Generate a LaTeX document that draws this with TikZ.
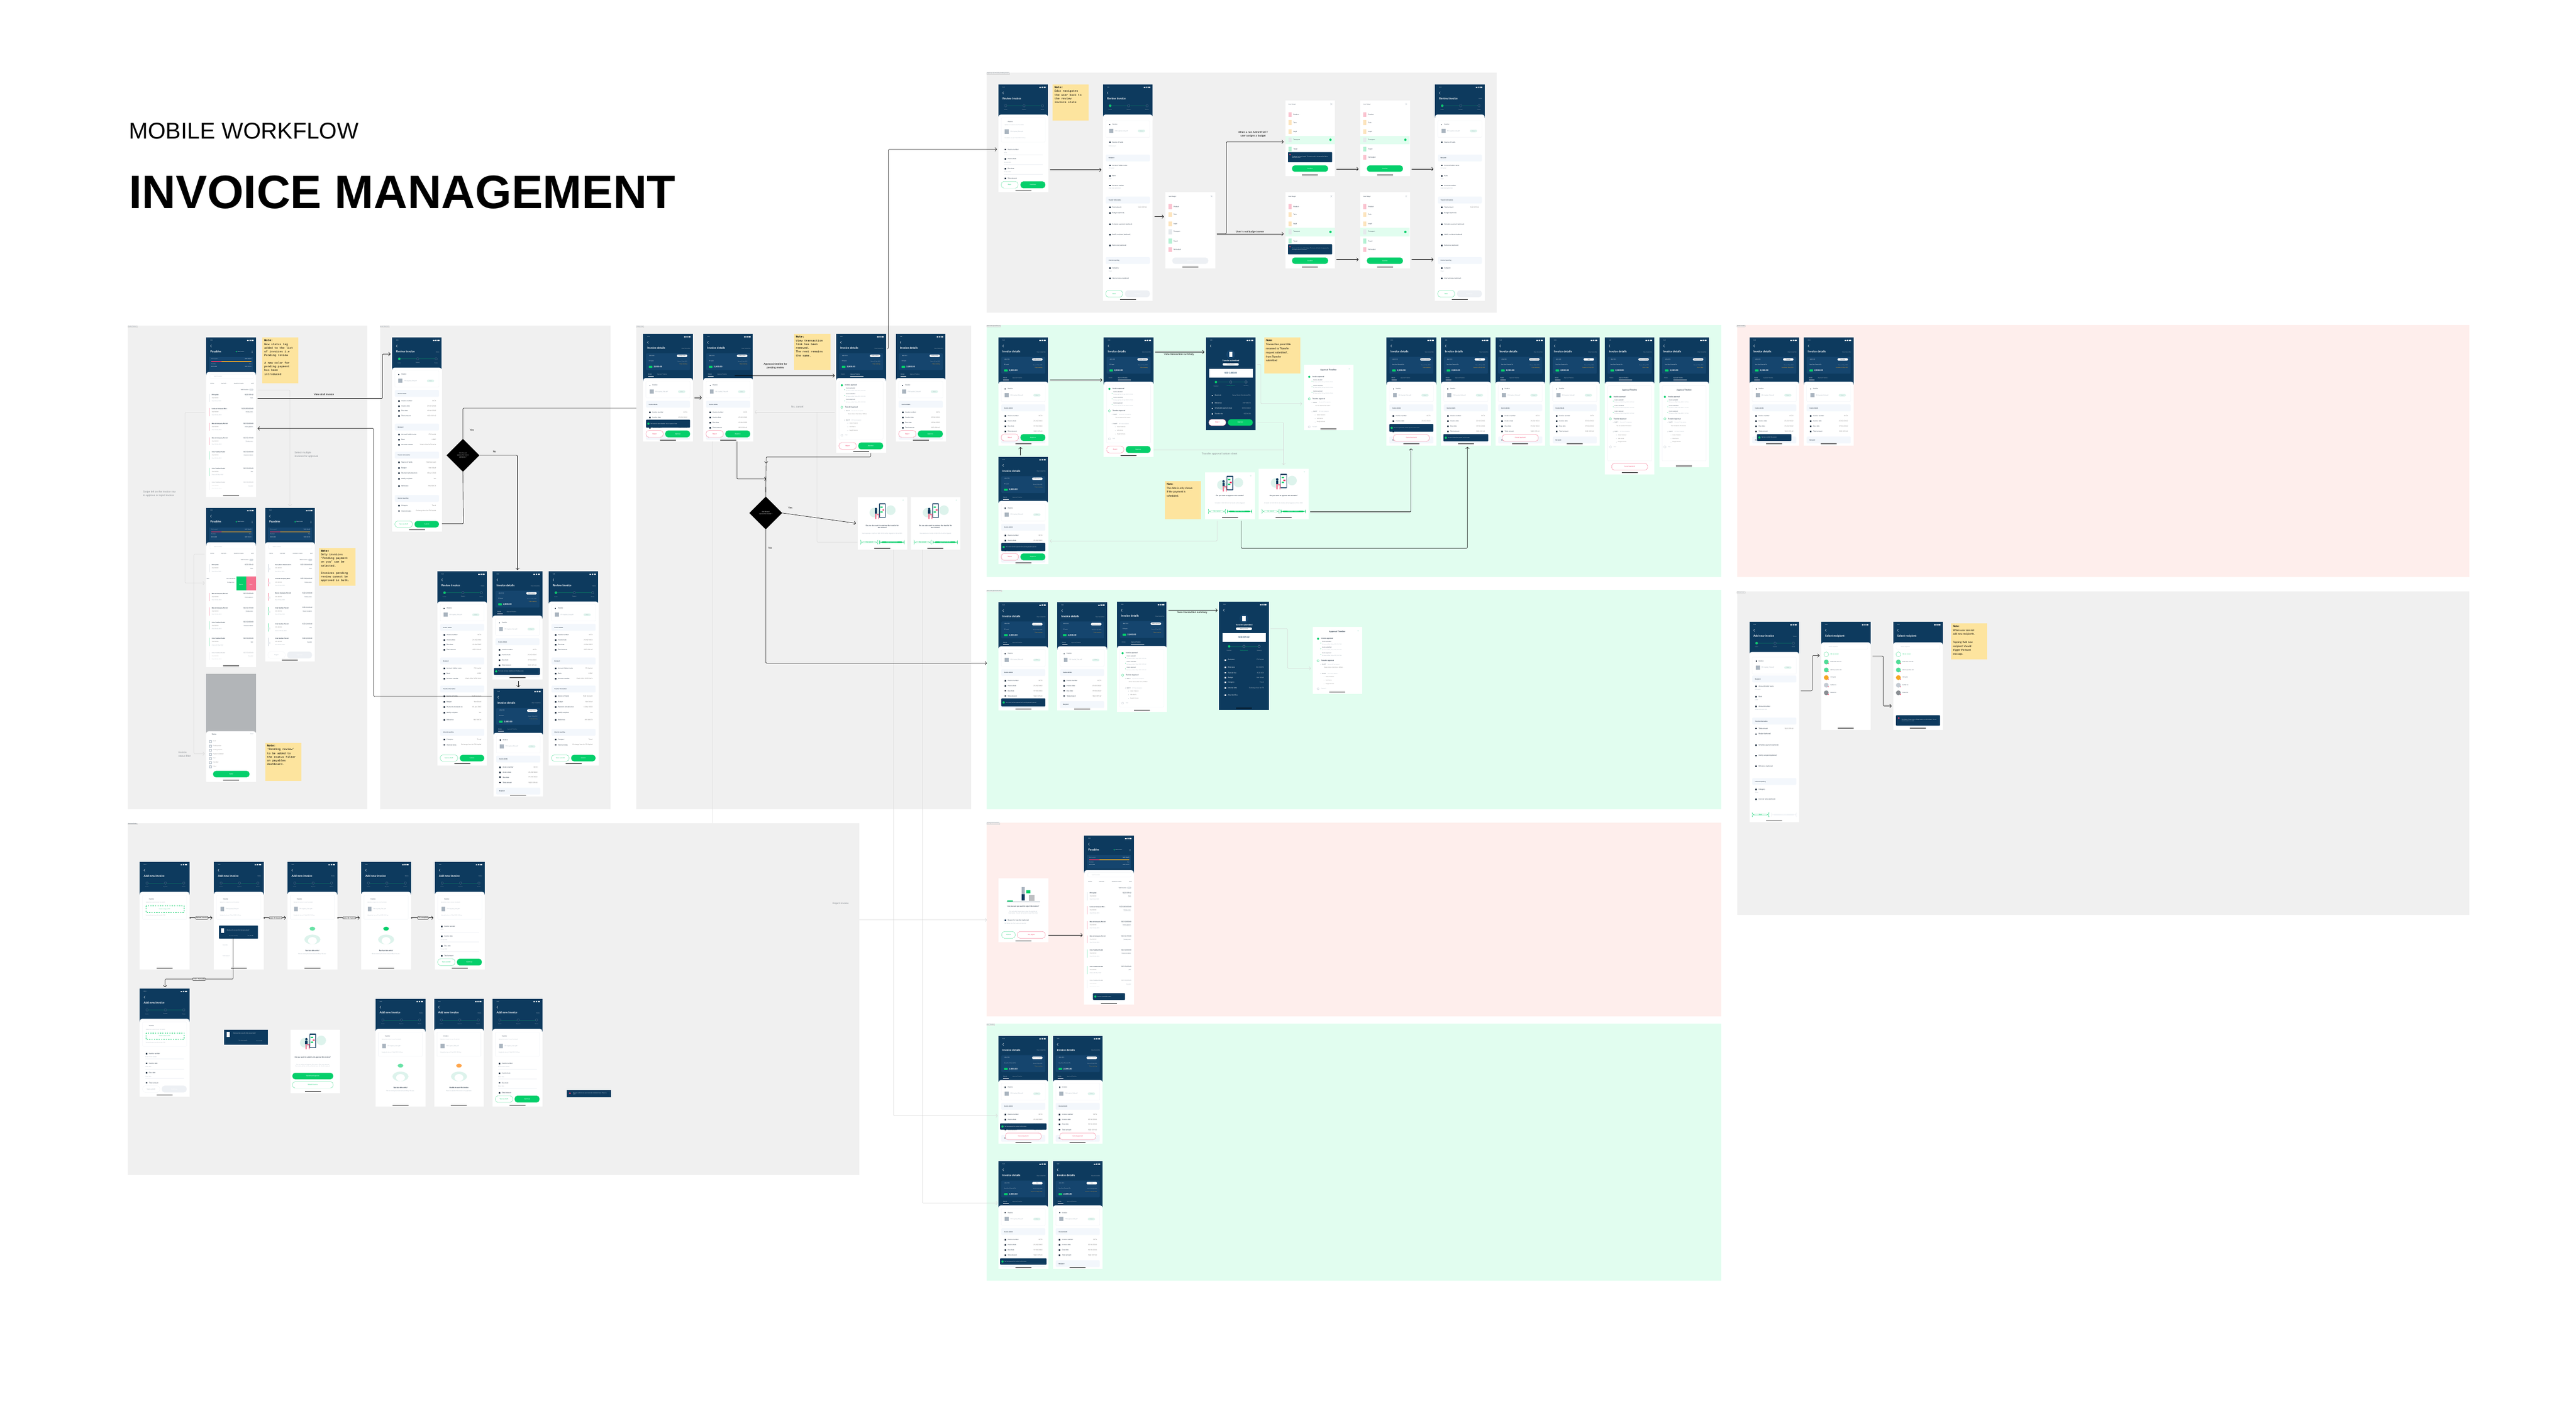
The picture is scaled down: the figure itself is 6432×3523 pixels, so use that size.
\documentclass[tikz,border=0pt]{standalone}
\usepackage{fontspec}
\setmainfont{Lato}
\newfontfamily\flowfont{Liberation Sans}
\newfontfamily\notemono{Liberation Mono}
\usetikzlibrary{arrows.meta,shapes.geometric}

\definecolor{navy}{HTML}{0D3A5E}
\definecolor{navylight}{HTML}{15456E}
\definecolor{mint}{HTML}{05CF6B}
\definecolor{mintpale}{HTML}{DDF3EC}
\definecolor{panelgray}{HTML}{F0F0F0}
\definecolor{panelgreen}{HTML}{E1FDEF}
\definecolor{panelred}{HTML}{FEEEEC}
\definecolor{noteyellow}{HTML}{FDE49E}
\definecolor{rose}{HTML}{F0345F}
\definecolor{amber}{HTML}{F5A623}
\definecolor{palebar}{HTML}{F3F7FC}
\definecolor{ink}{HTML}{2B3A4A}
\definecolor{mute}{HTML}{A9B4BF}
\definecolor{cardline}{HTML}{EDF0F4}
\definecolor{faintline}{HTML}{D6D6D6}
\definecolor{flowgrey}{HTML}{8A8F94}
\definecolor{scrim}{HTML}{B2B5B8}

\tikzset{
  phonebox/.style={fill=white,inner sep=0pt,minimum width=124pt,anchor=north west},
  panelbox/.style={inner sep=0pt,anchor=north west},
  tagbox/.style={anchor=north west,fill=white,fill opacity=.5,text opacity=1,draw=faintline,line width=.2pt,inner sep=1pt,font=\fontsize{2.4}{3}\selectfont,text=ink},
  smalltxt/.style={inner sep=0pt,anchor=west,text=ink,font=\fontsize{4}{4.8}\selectfont},
  wtxt/.style={text=white},
  mtxt/.style={text=mute},
  metatxt/.style={text=mute,font=\fontsize{3}{3.6}\selectfont},
  tinytxt/.style={font=\fontsize{2.6}{3.2}\selectfont},
  boldtxt/.style={font=\fontsize{4}{4.8}\selectfont\bfseries},
  okbtn/.style={fill=mint,text=white},
  outgreen/.style={draw=mint,fill=white,text=mint,line width=.3pt},
  outrose/.style={draw=rose,fill=white,text=rose,line width=.3pt},
  offbtn/.style={fill=cardline,text=white},
  flow/.style={draw=black,line width=.8pt,rounded corners=2pt,shorten >=4pt,shorten <=4pt,-{Straight Barb[length=4pt,width=9pt]}},
  flowplain/.style={draw=black,line width=.8pt,rounded corners=2pt},
  faint/.style={draw=faintline,line width=.7pt,rounded corners=2pt,shorten >=4pt,shorten <=4pt,-{Straight Barb[length=4pt,width=9pt]}},
  faintplain/.style={draw=faintline,line width=.7pt,rounded corners=2pt},
  flowlbl/.style={inner sep=0pt,align=center,font=\flowfont\fontsize{6.4}{9}\selectfont},
  greylbl/.style={flowlbl,text=flowgrey},
  flowtag/.style={fill=white,draw=black,line width=.6pt,inner sep=1.2pt,font=\flowfont\fontsize{4.6}{5}\selectfont},
  notebox/.style={fill=noteyellow,inner sep=5pt,anchor=north west,align=left},
  decision/.style={diamond,fill=black,text=white,aspect=1,inner sep=0pt,minimum width=82pt,minimum height=82pt,align=center,font=\fontsize{3.4}{5}\selectfont},
}

\newcount\lblno
\newcommand{\lbl}[4][]{\global\advance\lblno by 1\relax\node[smalltxt,#1] (n\the\lblno) at (#2,#3) {#4};}
\newcommand{\panel}[7]{\pgfmathsetmacro\panw{#4-#2}\pgfmathsetmacro\panh{#5-#3}%
  \node[panelbox,fill=#6,minimum width=\panw pt,minimum height=\panh pt] (#1) at (#2,#3) {};
  \node[tagbox] (#1tag) at (#1.north west) {#7};}
\newcommand{\notemonobox}[6]{\node[notebox,font=\notemono\fontsize{7}{9.3}\selectfont] (#1) at (#2,#3) {\parbox[t][#5pt][t]{#4pt}{#6}};}
\newcommand{\notesansbox}[6]{\node[notebox,font=\fontsize{6.4}{10}\selectfont] (#1) at (#2,#3) {\parbox[t][#5pt][t]{#4pt}{#6}};}

\newcommand{\phonebase}[4]{\node[phonebox,minimum height=#4pt] (#1) at (#2,#3) {};\gdef\px{#2}\gdef\py{#3}\gdef\ph{#4}}
\newcommand{\inphone}[1]{\begin{scope}[shift={(\px,\py)}]#1\end{scope}}
\newcommand{\homebar}{\inphone{\fill[black] (42,\ph-4) rectangle (82,\ph-3);}}
\newcommand{\btnbox}[6][]{\global\advance\lblno by 1\relax\pgfmathsetmacro\btnw{#3-#2}\pgfmathsetmacro\btnh{#5-#4}%
  \node[#1,inner sep=0pt,rounded corners=7pt,minimum width=\btnw pt,minimum height=\btnh pt,font=\fontsize{3.8}{4.4}\selectfont] (n\the\lblno) at ({(#2+#3)/2},{(#4+#5)/2}) {#6};}
\newcommand{\toastbar}[5]{\inphone{\fill[navy,rounded corners=1.5pt] (#1,#3) rectangle (#2,#4);
  \fill[mint] (#1+6,{(#3+#4)/2}) circle (2.8);
  \global\advance\lblno by 1\relax\node[smalltxt,wtxt,tinytxt,text width=#2-#1-16 pt,align=left] (n\the\lblno) at (#1+11,{(#3+#4)/2}) {#5};}}

% phone header
\newcommand{\headbar}[3]{\inphone{
  \fill[navy] (0,0) rectangle (124,#3+8);
  \fill[white,rounded corners=6pt] (0,#3) rectangle (124,#3+20);
  \fill[white] (0,#3+10) rectangle (124,\ph);
  \lbl[wtxt,metatxt,text=white]{10}{7}{9:41}
  \fill[white] (102,6) rectangle (106,8.5) (108,5.5) rectangle (111,8.5) (113,5.5) rectangle (118,8.5);
  \draw[white,line width=.5pt] (13,18) -- (10.5,21) -- (13,24);
  \lbl[wtxt,font=\fontsize{7}{8}\selectfont\bfseries]{10}{35}{#1}
  \lbl[metatxt,anchor=east]{118}{36}{#2}}}
\newcommand{\stepper}[1]{\inphone{
  \draw[mint!35!navy,line width=.3pt] (18,53) -- (110,53);
  \foreach \xx in {18,64,110} {\filldraw[fill=navy,draw=mute!60!navy,line width=.3pt] (\xx,53) circle (3);}
  \ifnum#1=1 \fill[mint] (18,53) circle (3); \fi
  \lbl[anchor=center,metatxt,tinytxt]{18}{63}{Invoice}
  \lbl[anchor=center,metatxt,tinytxt]{64}{63}{Payment}
  \lbl[anchor=center,metatxt,tinytxt]{110}{63}{Review}}}
\newcommand{\sumcard}[4]{\inphone{
  \fill[navylight,rounded corners=2pt] (7,48) rectangle (117,90);
  \lbl[wtxt,tinytxt]{15}{54}{\#INV-1015}
  \fill[white,rounded corners=2pt] (84,51.5) rectangle (110,57.5);
  \lbl[anchor=center,tinytxt]{97}{54.5}{#2}
  \lbl[wtxt,tinytxt]{14}{68}{#1}
  \lbl[anchor=east,tinytxt,text=mute]{110}{69}{#4}
  \lbl[anchor=east,tinytxt,text=amber]{110}{76}{#3}
  \fill[mint,rounded corners=1pt] (14,79.5) rectangle (23,84.5);
  \lbl[wtxt,font=\fontsize{5.4}{6}\selectfont\bfseries]{26}{82}{2,000.00}}}
\newcommand{\tabbar}[1]{\inphone{
  \ifnum#1=0
    \lbl[wtxt,metatxt,text=white]{12}{101}{Details}\lbl[metatxt]{35}{101}{Approval Timeline}
    \fill[white] (12,105.5) rectangle (26,106);
  \else
    \lbl[metatxt]{12}{101}{Details}\lbl[metatxt,text=white]{35}{101}{Approval Timeline}
    \fill[white] (35,105.5) rectangle (68,106);
  \fi}}
\newcommand{\filecard}[1]{\inphone{
  \draw[cardline,line width=.4pt,rounded corners=2pt] (7,#1) rectangle (117,#1+42);
  \fill[ink] (16,#1+8.5) rectangle (18,#1+11.5);
  \lbl{23}{#1+10}{Invoice}
  \fill[mute] (16,#1+21) rectangle (26,#1+31);
  \lbl[metatxt,font=\fontsize{3.8}{4.4}\selectfont]{30}{#1+26}{FR Capital\_Feb.pdf}
  \fill[mintpale,rounded corners=3pt] (87,#1+23) rectangle (105,#1+29);
  \lbl[anchor=center,metatxt]{96}{#1+26}{View}}}
\newcommand{\secbar}[2]{\inphone{
  \fill[palebar,rounded corners=2pt] (7,#1) rectangle (117,#1+17);
  \lbl[boldtxt,font=\fontsize{3.4}{4}\selectfont\bfseries]{14}{#1+9}{#2}}}
\newcommand{\inforow}[3]{\inphone{
  \fill[ink] (15,#1-1.8) rectangle (19,#1+1.8);
  \lbl{23}{#1}{#2}
  \lbl[anchor=east,text=gray]{110}{#1}{#3}}}
\newcommand{\invoicerows}[1]{
  \inforow{#1}{Invoice number}{0174}
  \inforow{#1+13}{Invoice date}{25/02/2022}
  \inforow{#1+25}{Due date}{19/04/2022}
  \inforow{#1+38}{Total amount}{SGD 339.42}}
\newcommand{\stdbody}{\filecard{118}\secbar{167}{Invoice details}\invoicerows{196}\secbar{247}{Recipient}}
\newcommand{\detailphone}[8]{\phonebase{#1}{#2}{#3}{#4}
  \headbar{Invoice details}{View transaction}{110}
  \sumcard{#5}{#6}{#7}{Due on 19 Apr 2022}\tabbar{#8}}
\newcommand{\approvebtns}{\inphone{\btnbox[outrose]{7}{50}{241}{258}{Reject}\btnbox[okbtn]{55}{117}{241}{258}{Approve}}}
\newcommand{\cancelbtn}[1]{\inphone{\btnbox[outrose]{17}{107}{#1}{#1+17}{Cancel payment}}}

% long review form
\newcommand{\reviewbody}{
  \filecard{82}\secbar{131}{Invoice details}\invoicerows{158}
  \secbar{215}{Recipient}
  \inforow{242}{Account holder name}{FR Capital}\inforow{255}{Bank}{HSBC}\inforow{268}{Account number}{2348 1234 5678 9101}
  \secbar{285}{Transfer information}
  \inforow{312}{Source of funds}{SGD Account}\inforow{326}{Budget}{Not linked}\inforow{339}{Payment scheduled on}{18 Apr 2022}
  \inforow{353}{Notify recipient}{Yes}\inforow{371}{Reference}{INV 00174}
  \secbar{393}{Internal reporting}
  \inforow{420}{Category}{Travel}\inforow{433}{Internal notes}{Exchange fees for FR Capital}}
\newcommand{\reviewphone}[3]{\phonebase{#1}{#2}{#3}{484}
  \headbar{Review invoice}{Delete}{75}\stepper{1}\reviewbody
  \inphone{\btnbox[outgreen]{7}{51}{458}{474}{Save as draft}\btnbox[okbtn]{56}{117}{458}{474}{Submit}}\homebar}
\newcommand{\editsections}[1]{
  \secbar{175+#1}{Recipient}
  \inforow{202+#1}{Account holder name}{}\inphone{\lbl[metatxt]{14}{210+#1}{FR Capital}}
  \inforow{228+#1}{Bank}{}\inphone{\lbl[metatxt]{14}{236+#1}{HSBC}}
  \inforow{252+#1}{Account number}{}\inphone{\lbl[metatxt]{14}{260+#1}{2348 1234 5678 9101}}
  \secbar{280+#1}{Transfer information}
  \inforow{307+#1}{Total amount}{SGD 339.42}\inforow{321+#1}{Budget (optional)}{}
  \inforow{349+#1}{Schedule payment (optional)}{}\inforow{375+#1}{Notify recipient (optional)}{}
  \inforow{402+#1}{Reference (optional)}{}
  \secbar{431+#1}{Internal reporting}
  \inforow{459+#1}{Category}{}\inphone{\lbl[metatxt]{14}{467+#1}{Travel}}
  \inforow{484+#1}{Internal notes (optional)}{}
  \inphone{\btnbox[outgreen]{7}{49}{514+#1}{531+#1}{Back}\btnbox[offbtn]{55}{117}{514+#1}{531+#1}{Continue}}}

% add-invoice parts
\newcommand{\uploadcard}{\inphone{
  \draw[cardline,line width=.4pt,rounded corners=2pt] (7,83) rectangle (117,144);
  \lbl{23}{93}{Invoice}\lbl[metatxt]{15}{102}{Upload an invoice to scan the details}
  \draw[mint,dashed,line width=.3pt] (15,110) rectangle (111,126);
  \lbl[anchor=center,tinytxt,text=mint]{62}{118}{Upload an image or PDF}
  \lbl[metatxt,tinytxt]{15}{134}{Accepted formats: jpg, pdf, png, files 5 MB}}}
\newcommand{\uploadedcard}{\inphone{
  \draw[cardline,line width=.4pt,rounded corners=2pt] (7,83) rectangle (117,144);
  \lbl{23}{93}{Invoice}\lbl[metatxt]{15}{102}{Upload an invoice to scan the details}
  \fill[mute] (16,112) rectangle (26,124);
  \lbl[metatxt,font=\fontsize{3.8}{4.4}\selectfont]{30}{118}{FR Capital\_Feb.pdf}
  \lbl[metatxt,tinytxt]{15}{134}{Uploaded by Jane on 17 April 2022, 12:29 pm}}}
\newcommand{\formrows}[4]{
  \inforow{162}{Invoice number}{}\inphone{\lbl[metatxt]{14}{170}{#1}\draw[cardline] (14,175) -- (110,175);}
  \inforow{186}{Invoice date}{}\inphone{\lbl[metatxt]{14}{195}{#2}\draw[cardline] (14,200) -- (110,200);}
  \inforow{210}{Due date}{}\inphone{\lbl[metatxt]{14}{219}{#3}\draw[cardline] (14,224) -- (110,224);}
  \inforow{235}{Total amount}{#4}}
\newcommand{\scanblob}[3]{\inphone{
  \fill[mintpale] (62,194) ellipse (20 and 12);
  \fill[white] (62,197) ellipse (11 and 9);
  \fill[#1] (62,167) ellipse (7 and 5);
  \lbl[anchor=center,boldtxt]{62}{222}{#2}
  \lbl[anchor=center,metatxt]{62}{230}{#3}}}
\newcommand{\addphone}[4]{\phonebase{#1}{#2}{#3}{269}\headbar{Add new invoice}{#4}{75}\stepper{0}}

% illustrations and sheets
\newcommand{\phonefig}[2]{\begin{scope}[shift={(#1,#2)}]
  \fill[mintpale] (-20,3) circle (12) (21,-3) circle (12);
  \fill[navy,rounded corners=1pt] (-8,-20) rectangle (8,16);
  \fill[white] (-6.5,-17) rectangle (6.5,14);
  \fill[mint] (-5,-12) rectangle (1,-9) (-5,0) rectangle (1,3);
  \fill[rose] (0,-5) rectangle (5,-2);
  \fill[navy] (-16,-6) circle (3);
  \fill[navy] (-19,-3) rectangle (-13,6);
  \fill[rose!70] (-18,6) rectangle (-15,19) (-14,6) rectangle (-8,9) (-10,9) rectangle (-8,19);
\end{scope}}
\newcommand{\askphone}[8]{\phonebase{#1}{#2}{#3}{#4}\inphone{
  \phonefig{62}{#4/2-30}
  \fill[mintpale] (114,8) circle (2);
  \global\advance\lblno by 1\relax\node[smalltxt,boldtxt,anchor=center,align=center,text width=108pt] (n\the\lblno) at (62,#4-58) {#5};
  \global\advance\lblno by 1\relax\node[smalltxt,metatxt,anchor=center,align=center,text width=108pt] (n\the\lblno) at (62,#4-40) {#6};
  \btnbox[outgreen]{8}{51}{#4-27}{#4-11}{#7}\btnbox[okbtn]{55}{117}{#4-27}{#4-11}{#8}}\homebar}
\newcommand{\budgetphone}[6]{\phonebase{#1}{#2}{#3}{190}\inphone{
  \lbl[metatxt,text=ink]{8}{11}{Select Budget}
  \draw[mute,line width=.3pt] (113,8) -- (117,12) (117,8) -- (113,12);
  \ifnum#4=1 \fill[panelgreen] (0,89) rectangle (124,110); \fill[mint] (113,99) circle (3); \fi
  \foreach \yy/\nm/\cc in {36/Product/rose,56/Tech/amber,79/Legal/amber,99/Transport/mute,122/Travel/mint,143/No budget/rose} {
    \fill[\cc!30] (8,\yy-6) rectangle (16,\yy+6);
    \lbl{20}{\yy}{\nm}}
  #5
  \btnbox[#6]{17}{107}{163}{179}{Confirm}}\homebar}
\newcommand{\budgettoast}[1]{\fill[navy,rounded corners=1pt] (7,130) rectangle (117,155);
  \fill[rose] (12,136) circle (2);
  \global\advance\lblno by 1\relax\node[smalltxt,wtxt,tinytxt,text width=92pt,align=left] (n\the\lblno) at (17,142) {#1};}
\newcommand{\recipientphone}[4]{\phonebase{#1}{#2}{#3}{269}\headbar{Select recipient}{}{51}\inphone{
  \draw[cardline,rounded corners=2pt,line width=.4pt] (7,56) rectangle (117,68);
  \lbl[metatxt]{19}{62}{Search recipients}
  \draw[mint,line width=.3pt] (13,81) circle (6);
  \lbl[tinytxt,text=mint]{23}{81}{Add new recipient}
  \foreach \yy/\nm/\cc in {100/{Acme Corp. Pte. Ltd.}/mint!70,120/ABC Corporation Ltd./mint!70,139/FR Capital/amber,158/Gorillaz Inc./mute!70,177/Xiaomi Ltd./flowgrey} {
    \fill[\cc] (13,\yy) circle (6);
    \fill[rose] (18,\yy+4) circle (1.3);
    \lbl[metatxt,text=ink]{23}{\yy}{\nm}}
  #4}\homebar}
\newcommand{\transferphone}[5]{\phonebase{#1}{#2}{#3}{#4}\inphone{
  \fill[navy] (0,0) rectangle (124,\ph);
  \lbl[wtxt,metatxt,text=white]{10}{7}{9:41}
  \fill[white] (102,6) rectangle (106,8.5) (108,5.5) rectangle (111,8.5) (113,5.5) rectangle (118,8.5);
  \draw[white,line width=.5pt] (13,18) -- (10.5,21) -- (13,24);
  \fill[navylight] (62,42) circle (11);
  \fill[white] (58,36) rectangle (66,48);
  \lbl[anchor=center,wtxt,font=\fontsize{5}{6}\selectfont\bfseries]{62}{58}{Transfer submitted}
  \fill[white,rounded corners=2pt] (42,64) rectangle (82,70);
  \lbl[anchor=center,tinytxt]{62}{67}{Pending payment}
  \fill[white] (8,78) rectangle (117,100);
  \lbl[anchor=center,boldtxt,text=navy,font=\fontsize{5}{6}\selectfont\bfseries]{62}{89}{#5}
  \draw[mint!35!navy,line width=.3pt] (25,111) -- (100,111);
  \fill[mint] (25,111) circle (3);
  \foreach \xx in {62,100} {\filldraw[fill=navy,draw=mute,line width=.3pt] (\xx,111) circle (3);}
  \lbl[anchor=center,metatxt,tinytxt]{25}{121}{Submitted}
  \lbl[anchor=center,tinytxt,text=mint]{62}{121}{Pending approval}
  \lbl[anchor=center,metatxt,tinytxt]{100}{121}{Upcoming}}}
\newcommand{\navyrow}[3]{\inphone{\fill[white] (14,#1-1.8) rectangle (17,#1+1.8);
  \lbl[wtxt]{22}{#1}{#2}\lbl[anchor=east,text=mute]{112}{#1}{#3}}}

% approval timeline list
\newcommand{\timelinelist}[3]{\inphone{\begin{scope}[shift={(0,#1)}]
  \fill[mint] (14,128) circle (2.6);
  \lbl[boldtxt]{22}{128}{Invoice approval}
  \foreach \yy/\nm in {136/Invoice uploaded,150/Invoice submitted,164/Invoice approved} {
    \fill[mint] (21,\yy+3) circle (.7);
    \lbl[metatxt,text=ink]{24}{\yy}{\nm}
    \lbl[metatxt,tinytxt]{24}{\yy+6}{By James on Wed, 18 Apr 2022, 11:27 AM}}
  \draw[mint,line width=.4pt] (14,183) circle (2.6);
  \lbl[boldtxt]{22}{183}{Transfer Approval}
  \fill[mute] (21,192) circle (.7);
  \lbl[metatxt,text=ink]{24}{192}{Level 1}\lbl[metatxt,tinytxt]{38}{192}{Any one of 5 can approve}
  \lbl[metatxt,text=gray]{29}{200}{#2}
  \fill[mute] (21,215) circle (.7);
  \lbl[metatxt,text=ink]{24}{215}{Level 2}\lbl[metatxt,tinytxt]{38}{215}{All 3 have to approve}
  \foreach \yy/\nm in {223/James Cameron,232/Julia Garcia,241/Dwight Schrute} {
    \fill[mute] (29,\yy) circle (.6);
    \lbl[metatxt,text=gray]{33}{\yy}{\nm}}
  \draw[mute,line width=.3pt] (14,253) circle (2.6);
  \lbl[metatxt]{22}{253}{#3}
\end{scope}}}

% payables dashboard
\gdef\payx{14}
\newcommand{\payphone}[4]{\phonebase{#1}{#2}{#3}{#4}\headbar{Payables}{}{86}\inphone{
  \fill[mint] (75,35) circle (1.8);
  \lbl[metatxt,text=white]{78}{35}{New invoice}
  \fill[white] (114,33) rectangle (115,34) (114,35) rectangle (115,36) (114,37) rectangle (115,38);
  \fill[navylight] (7,49) rectangle (117,82);
  \lbl[metatxt]{12}{54}{Total unpaid}\lbl[metatxt,text=white,anchor=east]{113}{54}{SGD 38,623}
  \fill[rose] (12,59) rectangle (38,61);\fill[amber] (38,59) rectangle (113,61);
  \lbl[metatxt]{12}{66}{Overdue}\lbl[metatxt,text=white]{12}{73}{SGD 8,482}
  \lbl[metatxt,anchor=east]{113}{66}{Due}\lbl[metatxt,text=white,anchor=east]{113}{73}{SGD 30,141}
  \draw[cardline,rounded corners=2pt,line width=.4pt] (9,92) rectangle (117,103);
  \lbl[metatxt]{19}{97.5}{Search invoices}
  \foreach \xx/\nm in {10/STATUS,37/DUE DATE,69/SOURCE OF FUNDS,112/SORT} {\lbl[tinytxt,text=ink]{\xx}{115}{\nm}}
  \lbl[metatxt,text=ink,anchor=east]{106}{130}{Select invoices}
  \filldraw[fill=mute!40,draw=mute,line width=.2pt,rounded corners=1.5pt] (108,128) rectangle (117,132);}}
\newcommand{\payrow}[7]{\inphone{
  \fill[#7!35] (7,#1-2) rectangle (9,#1+18);
  \lbl[font=\fontsize{3.6}{4.2}\selectfont\bfseries]{\payx}{#1}{#2}
  \lbl[anchor=east]{118}{#1}{#3}
  \lbl[metatxt,text=gray]{\payx}{#1+8}{#4}
  \lbl[tinytxt,anchor=east,draw=cardline,inner sep=.6pt,rounded corners=1pt,line width=.2pt]{117}{#1+8.5}{#5}
  \lbl[metatxt]{\payx}{#1+16}{#6}}}
\newcommand{\paylist}{
  \payrow{143}{FR Capital}{SGD 339.42}{INV-000001}{Draft}{Due 03 Jun 2022}{mute}
  \payrow{178}{Larisa \& Company Bhd...}{SGD 200,000.00}{INV-000002}{Pending review}{Due 20 May 2022}{rose}
  \payrow{215}{Bain \& Company Pte Ltd}{SGD 2,000.00}{INV-000003}{Pending payment}{Due 31 May 2022}{rose}
  \payrow{251}{Bain \& Company Pte Ltd}{SGD 2,190.00}{INV-000013}{Pending review}{Due 31 May 2022}{rose}
  \payrow{286}{Crim Textiles Pte Ltd}{SGD 2,000.00}{INV-000014}{Payment scheduled}{Due 20 May 2022}{mint}
  \payrow{327}{Crim Textiles Pte Ltd}{SGD 2,000.00}{INV-000004}{Paid}{Paid on 20 May 2022}{mint}
  \begin{scope}[opacity=.4]\payrow{362}{Crim Textiles Pte Ltd}{SGD 2,000.00}{INV-000005}{Cancelled}{Due 20 May 2022}{mute}\end{scope}}

\begin{document}
\begin{tikzpicture}[x=1pt,y=-1pt]
\useasboundingbox (0,0) rectangle (6432,3523);
\fill[white] (0,0) rectangle (6432,3523);

% titles
\node[anchor=west,inner sep=0pt,font=\flowfont\fontsize{57}{60}\selectfont] (subtitle) at (322,327) {MOBILE WORKFLOW};
\node[anchor=west,inner sep=0pt,font=\flowfont\fontsize{117}{120}\selectfont\bfseries] (title) at (322,480.5) {INVOICE MANAGEMENT};

% panels
\panel{pa}{319}{813}{917}{2021}{panelgray}{Payables Dashboard}
\panel{pb}{949}{813}{1524}{2021}{panelgray}{Invoice Submit/edit}
\panel{pc}{1589}{813}{2425}{2021}{panelgray}{Pending review}
\panel{pd}{2463}{181}{3737}{781}{panelgray}{Budget major users Reviewing and editing an invoice}
\panel{pe}{2463}{812}{4298}{1440}{panelgreen}{Invoice waits approval from you}
\panel{pf}{4337}{812}{6165}{1440}{panelred}{Invoice cancelled}
\panel{pg}{2463}{1473}{4298}{2021}{panelgreen}{Invoice waits approval from others}
\panel{ph}{4337}{1477}{6165}{2285}{panelgray}{Add new invoice}
\panel{pj}{2463}{2054}{4298}{2538}{panelred}{Rejecting Invoice submission}
\panel{pk}{2463}{2556}{4298}{3198}{panelgreen}{Paid / Scheduled}

% grey paths that run behind the scan panel
\coordinate (s1drop) at (2231,1373);
\coordinate (s2drop) at (2303,1373);
\draw[faint,shorten <=0pt] (1780,1102) -- (1780,2297) -- (2468,2297);
\draw[faint,shorten <=0pt] (s1drop) -- (2231,2786) -- (2495,2786);
\draw[faint,shorten <=0pt] (s2drop) -- (2303,3004) -- (2495,3004);
\panel{pi}{319}{2055}{2146}{2934}{panelgray}{Scan Invoice Details}

% dashboard phones
\payphone{p1}{515}{843}{398}\paylist\homebar
\payphone{p2}{515}{1268}{398}\paylist
\inphone{\fill[white] (0,169) rectangle (124,207);
  \fill[mint] (75,171) rectangle (100,206);\fill[rose!70] (100,171) rectangle (124,206);
  \lbl[anchor=center,tinytxt,wtxt]{87}{192}{Approve}\lbl[anchor=center,tinytxt,wtxt]{112}{192}{Reject}
  \lbl[metatxt,text=ink]{1}{178}{Bhd...}\lbl[anchor=east,metatxt,text=ink]{73}{178}{SGD 200,000.00}
  \lbl[tinytxt,anchor=east]{70}{187}{Pending review}}\homebar
\gdef\payx{25}
\payphone{p3}{662}{1268}{384}
\payrow{143}{Sassy Store Chemicals P...}{SGD 200,000.00}{INV-000001}{Draft}{Due 03 Jun 2022}{mute}
\payrow{178}{Larisa \& Company Bhd...}{SGD 200,000.00}{INV-000002}{Pending review}{Due 20 May 2022}{rose}
\payrow{214}{Bain \& Company Pte Ltd}{SGD 2,000.00}{INV-000003}{Pending review}{Due 31 May 2022}{rose}
\payrow{250}{Crim Textiles Pte Ltd}{SGD 2,000.00}{INV-000014}{Payment scheduled}{Due 20 May 2022}{mint}
\payrow{291}{Crim Textiles Pte Ltd}{SGD 2,000.00}{INV-000004}{Paid}{Paid on 20 May 2022}{mint}
\payrow{327}{Crim Textiles Pte Ltd}{SGD 2,000.00}{INV-000005}{Cancelled}{Due 20 May 2022}{mute}
\inphone{\foreach \yy in {150,186,222,258,299,335} {\fill[cardline] (8,\yy) rectangle (13,\yy+5);}
  \btnbox[outgreen,draw=cardline,text=mute]{7}{50}{359}{376}{Reject}\btnbox[offbtn]{55}{117}{359}{376}{Approve}}\homebar
\gdef\payx{14}
\phonebase{filtersheet}{515}{1683}{269}
\inphone{\fill[scrim] (0,0) rectangle (124,146);
  \fill[white,rounded corners=6pt] (0,143) rectangle (124,160);
  \fill[white] (0,150) rectangle (124,269);
  \lbl[boldtxt]{14}{150}{Status}\lbl[metatxt,anchor=east]{118}{150}{Reset}
  \foreach \yy/\nm in {168/Draft,179/Pending review,190/Pending payment,200/Payment scheduled,210/Paid,221/Cancelled,231/Failed} {
    \draw[mute,line width=.3pt] (8,\yy-2) rectangle (13,\yy+3);
    \lbl[metatxt,text=gray]{17}{\yy}{\nm}}
  \btnbox[okbtn]{17}{108}{242}{258}{Apply}}\homebar
\notemonobox{notea}{655}{843}{80}{104}{\textbf{Note:}\\New status tag\\added to the list\\of invoices i.e\\Pending review\\[9.3pt]A new color for\\pending payment\\has been\\introduced}
\notemonobox{noteb}{796}{1368}{81}{85}{\textbf{Note:}\\Only invoices\\‘Pending payment\\on you’ can be\\selected.\\[9.3pt]Invoices pending\\review cannot be\\approved in bulk.}
\notemonobox{notec}{662}{1855}{80}{85}{\textbf{Note:}\\‘Pending review’\\to be added to\\the status filter\\on payables\\dashboard.}

% review phones
\reviewphone{r1}{979}{843}
\reviewphone{r2}{1092}{1427}
\detailphone{id1}{1230}{1427}{269}{FR Capital}{Pending review}{2 days remaining}{0}\stdbody
\toastbar{3}{118}{241}{258}{The invoice has been submitted and is Pending review.}\homebar
\detailphone{id2}{1232}{1720}{269}{FR Capital}{Pending review}{2 days remaining}{0}\stdbody\homebar
\reviewphone{r3}{1370}{1427}
\node[decision] (diaa) at (1156,1137) {Can this user\\approve the invoice\\submission ?};

% pending review phones
\detailphone{c1}{1606}{834}{268}{FR Capital}{Pending review}{2 days remaining}{0}\stdbody
\toastbar{7}{117}{214}{234}{The invoice has been submitted. You can approve it now.}\approvebtns\homebar
\detailphone{c2}{1756}{834}{268}{FR Capital}{Pending review}{2 days remaining}{0}\stdbody\approvebtns\homebar
\detailphone{c3}{2088}{834}{297}{FR Capital}{Pending review}{2 days remaining}{1}
\inphone{\draw[cardline,rounded corners=2pt,line width=.4pt] (7,118) rectangle (117,263);}
\timelinelist{0}{Damon Henry, Mark Henry, William}{Paid}
\inphone{\btnbox[outrose]{7}{50}{271}{288}{Reject}\btnbox[okbtn]{55}{117}{271}{288}{Approve}}\homebar
\detailphone{c4}{2237}{834}{268}{FR Capital}{Pending review}{2 days remaining}{0}\stdbody\approvebtns\homebar
\notemonobox{noted}{1982}{834}{81}{80}{\textbf{Note:}\\View transaction\\link has been\\removed.\\The rest remains\\the same.}
\node[decision] (diab) at (1912,1281) {Can this user\\approve the transfer ?};
\askphone{s1}{2141}{1241}{132}{Do you also want to approve the transfer for\\this invoice?}{Upon approval, a transfer of SGD 339.42 will be triggered on 18 Jul 2022.}{No, cancel}{Approve transfer}
\askphone{s2}{2274}{1241}{132}{Do you also want to approve the transfer for\\this invoice?}{Upon approval, a transfer of SGD 339.42 will be triggered.}{No, cancel}{Approve transfer}

% budget owner phones
\phonebase{d1}{2493}{211}{269}\headbar{Review invoice}{}{75}\stepper{0}\uploadedcard
\formrows{0174}{25 Feb 2022}{19 Apr 2022}{}
\inphone{\btnbox[outgreen]{7}{49}{242}{259}{Back}\btnbox[okbtn]{55}{117}{242}{259}{Continue}}\homebar
\notemonobox{notee}{2628}{211}{80}{80}{\textbf{Note:}\\Edit navigates\\the user back to\\the review\\invoice state}
\phonebase{d2}{2754}{211}{540}\headbar{Review invoice}{}{75}\stepper{1}\filecard{90}
\inforow{144}{Source of funds}{}\inphone{\lbl[metatxt]{14}{154}{SGD Account}}\editsections{0}\homebar
\budgetphone{d3}{2910}{480}{0}{}{offbtn}
\budgetphone{d4}{3209}{250}{1}{\budgettoast{The budget has been changed. The invoice needs to be approved by Admins and Finance users.}}{okbtn}
\budgetphone{d5}{3396}{250}{1}{}{okbtn}
\budgetphone{d6}{3209}{480}{1}{\budgettoast{You are not the owner of this budget. The invoice will need to be approved by the budget owners of Transport.}}{okbtn}
\budgetphone{d7}{3396}{480}{1}{}{okbtn}
\phonebase{d8}{3583}{211}{540}\headbar{Review invoice}{Delete}{75}\stepper{1}\filecard{90}
\inforow{144}{Source of funds}{}\editsections{0}\homebar

% waits approval phones
\detailphone{e1}{2493}{843}{269}{FR Capital}{Pending approval}{2 days remaining}{0}\stdbody\approvebtns\homebar
\detailphone{e2}{2756}{843}{298}{FR Capital}{Pending approval}{2 days remaining}{1}
\inphone{\draw[cardline,rounded corners=2pt,line width=.4pt] (7,118) rectangle (117,263);}
\timelinelist{0}{You can approve this invoice}{Paid}
\inphone{\btnbox[outrose]{7}{50}{271}{288}{Reject}\btnbox[okbtn]{55}{117}{271}{288}{Approve}}\homebar
\transferphone{e3}{3011}{843}{231}{SGD 2,000.00}
\navyrow{145}{Recipient}{Sassy Store Chemicals Pte}\navyrow{163}{Reference}{INV 00174}
\navyrow{177}{Scheduled payment date}{18/04/2022}\navyrow{191}{Transfer fee}{SGD 0.00}
\inphone{\btnbox[outrose]{7}{50}{204}{220}{Reject}\btnbox[okbtn]{55}{117}{204}{220}{Approve}}
\notesansbox{notef}{3156}{843}{80}{80}{\textbf{Note:}\\Transaction panel title\\renamed to ‘Transfer\\request submitted’ ,\\from Transfer\\submitted}
\phonebase{e4}{3255}{911}{163}\inphone{
  \lbl[anchor=center,boldtxt,font=\fontsize{5}{6}\selectfont\bfseries]{62}{13}{Approval Timeline}
  \fill[mintpale] (114,10) circle (2);}
\timelinelist{-98}{You can approve this invoice}{Payment}\homebar
\detailphone{e5}{2493}{1141}{268}{FR Capital}{Pending approval}{2 days remaining}{0}\stdbody
\toastbar{7}{117}{215}{235}{Your invoice has been approved and is pending payment approval.}\approvebtns\homebar
\askphone{e7}{3009}{1180}{116}{Do you want to approve this transfer?}{A transfer of SGD 339.42, the transfer will be triggered.}{No, cancel}{Approve transfer}
\askphone{e8}{3143}{1170}{126}{Do you want to approve this transfer?}{A transfer of SGD 339.42, the transfer will be triggered on 18 Jul 2022.}{No, cancel}{Approve transfer}
\notesansbox{noteg}{2908}{1201}{81}{86}{\textbf{Note:}\\The date is only shown\\if the payment is\\scheduled.}
\detailphone{e9}{3462}{843}{269}{Sassy Store Chemicals Pte}{Payment scheduled}{3 days remaining}{0}\stdbody
\toastbar{7}{117}{216}{235}{You have approved the transfer request for this invoice.}\cancelbtn{242}\homebar
\detailphone{e10}{3598}{843}{269}{Sassy Store Chemicals Pte}{Paid}{Payment on 18 Apr 2022}{0}\stdbody
\toastbar{6}{118}{241}{259}{You have initiated the payment for this invoice.}\homebar
\detailphone{e11}{3734}{843}{269}{Sassy Store Chemicals Pte}{Payment scheduled}{3 days remaining}{0}\stdbody\cancelbtn{242}\homebar
\detailphone{e12}{3870}{843}{269}{Sassy Store Chemicals Pte}{Paid}{Payment on 18 Apr 2022}{0}\stdbody\homebar
\detailphone{e13}{4007}{843}{341}{Sassy Store Chemicals Pte}{Payment scheduled}{Due in 2 days}{1}
\inphone{\draw[cardline,rounded corners=2pt,line width=.4pt] (7,120) rectangle (117,308);
  \lbl[anchor=center,boldtxt,font=\fontsize{4.6}{5}\selectfont\bfseries]{62}{132}{Approval Timeline}}
\timelinelist{20}{You can approve this invoice}{Paid}\cancelbtn{314}\homebar
\detailphone{e14}{4143}{843}{324}{Sassy Store Chemicals Pte}{Payment scheduled}{Due in 2 days}{1}
\inphone{\draw[cardline,rounded corners=2pt,line width=.4pt] (7,120) rectangle (117,308);
  \lbl[anchor=center,boldtxt,font=\fontsize{4.6}{5}\selectfont\bfseries]{62}{132}{Approval Timeline}}
\timelinelist{20}{You can approve this invoice}{Paid}\homebar

% cancelled phones
\detailphone{f1}{4368}{843}{269}{Sassy Store Chemicals Pte}{Cancelled}{Cancellation 18 Apr 2022}{0}\stdbody
\toastbar{19}{105}{241}{258}{You have cancelled this payment.}\homebar
\detailphone{f2}{4504}{843}{269}{Sassy Store Chemicals Pte}{Cancelled}{Cancelled on 18 Apr 2022}{0}\stdbody\homebar

% approval from others phones
\detailphone{g1}{2493}{1504}{270}{FR Capital}{Pending approval}{2 days remaining}{0}\stdbody
\toastbar{7}{117}{240}{260}{Your invoice has been approved and is pending payment approval.}\homebar
\detailphone{g2}{2640}{1504}{270}{FR Capital}{Pending approval}{2 days remaining}{0}\stdbody\homebar
\detailphone{g3}{2789}{1503}{274}{FR Capital}{Pending approval}{2 days remaining}{1}
\inphone{\draw[cardline,rounded corners=2pt,line width=.4pt] (7,118) rectangle (117,263);}
\timelinelist{0}{Damon Henry, Mark Henry, William}{Paid}\homebar
\transferphone{g4}{3044}{1503}{269}{SGD 339.42}
\navyrow{145}{Recipient}{FR Capital}\navyrow{163}{Reference}{INV 00174}\navyrow{177}{Transfer fee}{SGD 0.00}
\navyrow{189}{Budget}{Not linked}\navyrow{201}{Category}{Travel}\navyrow{215}{Internal note}{Exchange fees for FR}
\navyrow{233}{Attached files}{}\homebar
\phonebase{g5}{3277}{1565}{167}\inphone{
  \lbl[anchor=center,boldtxt,font=\fontsize{5}{6}\selectfont\bfseries]{62}{13}{Approval Timeline}
  \fill[mintpale] (114,10) circle (2);}
\timelinelist{-98}{Damon Henry, Mark Henry, William}{Payment}\homebar

% recipient phones
\phonebase{h1}{4368}{1553}{500}\headbar{Add new invoice}{Delete}{75}\stepper{1}\filecard{88}\editsections{-41}\homebar
\recipientphone{h2}{4547}{1553}{}
\recipientphone{h3}{4727}{1553}{\fill[navy,rounded corners=1.5pt] (7,233) rectangle (117,259);
  \fill[rose] (14,240) circle (2.2);
  \global\advance\lblno by 1\relax\node[smalltxt,wtxt,tinytxt,text width=88pt,align=left] (n\the\lblno) at (21,246) {Only Admins, Finance users or Budget owners can add recipients. You can save this invoice as a draft.};}
\notesansbox{noteh}{4871}{1556}{81}{80}{\textbf{Note:}\\When user can not\\add new recipients.\\[10pt]Tapping ‘Add new\\recipient’ should\\trigger the toast\\message.}

% scan phones
\addphone{i1}{349}{2152}{}\uploadcard\homebar
\addphone{i2}{534}{2152}{Delete}\uploadedcard
\inphone{\fill[navy,rounded corners=1pt] (13,159) rectangle (110,192);
  \fill[white] (18,166) rectangle (26,178);
  \global\advance\lblno by 1\relax\node[smalltxt,wtxt,tinytxt,text width=72pt,align=left] (n\the\lblno) at (32,171) {Would you like to auto-fill all the invoice details?};
  \lbl[tinytxt,text=mute]{38}{185}{No, enter manually}\lbl[tinytxt,wtxt]{84}{185}{Yes, auto-fill}
  \lbl[metatxt]{22}{208}{Due date}\lbl[metatxt]{22}{235}{Total amount}}\homebar
\addphone{i3}{718}{2152}{Delete}\uploadedcard\scanblob{mint!60}{Bye-bye data entry!}{We are scanning the invoice and pre-filling it for you...}\homebar
\addphone{i4}{902}{2152}{Delete}\uploadedcard\scanblob{mint}{Bye-bye data entry!}{We are scanning the invoice and pre-filling it for you...}\homebar
\addphone{i5}{1086}{2152}{Delete}\uploadedcard\formrows{0174}{25 Feb 2022}{19 Apr 2022}{}
\inphone{\btnbox[outgreen]{7}{50}{242}{259}{Save as draft}\btnbox[okbtn]{55}{117}{242}{259}{Continue}}\homebar
\addphone{i6}{349}{2469}{}\uploadcard\formrows{Enter invoice number}{Select date}{Select date}{}
\inphone{\btnbox[outgreen,draw=cardline,text=mute]{7}{50}{242}{259}{Save as draft}\btnbox[offbtn]{55}{117}{242}{259}{Continue}}\homebar
\node[fill=navy,inner sep=0pt,minimum width=109pt,minimum height=37pt,anchor=north west] (i2toast) at (560,2571) {};
\lbl[wtxt,tinytxt,text width=82pt,align=left]{582}{2580}{Would you like to auto-fill all the invoice details?}
\lbl[tinytxt,text=mute]{596}{2599}{No, enter manually}\lbl[tinytxt,wtxt]{640}{2599}{Yes, auto-fill}
\fill[white] (566,2577) rectangle (574,2589);
\phonebase{i10}{725}{2571}{158}\inphone{
  \phonefig{56}{30}
  \global\advance\lblno by 1\relax\node[smalltxt,boldtxt,anchor=center,align=center,text width=104pt] (n\the\lblno) at (56,69) {Do you want to submit and approve this invoice?};
  \global\advance\lblno by 1\relax\node[smalltxt,metatxt,anchor=center,align=center,text width=100pt] (n\the\lblno) at (56,90) {You can submit and approve this invoice. After your approval, the invoice will be sent to authorised users for transfer approval.};
  \btnbox[okbtn]{5}{107}{108}{124}{Submit and approve}\btnbox[outgreen]{5}{107}{130}{146}{Submit invoice}
  \fill[black] (36,154) rectangle (76,155);}
\addphone{i7}{938}{2494}{Delete}\uploadedcard\scanblob{mint!60}{Bye-bye data entry!}{We are scanning the invoice and pre-filling it for you...}\homebar
\addphone{i8}{1084}{2494}{Delete}\uploadedcard\scanblob{orange!70}{Unable to scan this invoice}{Please re-upload of this invoice or try again later.}\homebar
\addphone{i9}{1230}{2494}{Delete}\uploadedcard\formrows{Enter invoice number}{Select date}{Select date}{}
\inphone{\btnbox[outgreen]{7}{50}{242}{259}{Save as draft}\btnbox[okbtn]{55}{117}{242}{259}{Continue}}\homebar
\node[fill=navy,inner sep=0pt,minimum width=110pt,minimum height=18pt,anchor=north west] (i9toast) at (1415,2722) {};
\fill[rose] (1423,2730) circle (2.5);
\lbl[wtxt,tinytxt,text width=88pt,align=left]{1431}{2731}{We were unable to scan your invoice due to technical issues. Please try again.}

% rejected and paid phones
\phonebase{j1}{2493}{2193}{160}\inphone{
  \fill[mint] (22,55) rectangle (36,58);
  \fill[mute] (58,22) rectangle (66,40);\fill[navy] (58,40) rectangle (66,56);\fill[mint] (70,30) rectangle (80,38);
  \fill[cardline!80!black] (76,42) rectangle (90,57);\draw[mute,line width=.3pt] (20,58) -- (104,58);
  \lbl[anchor=center,boldtxt]{62}{70}{Are you sure you want to reject this invoice?}
  \global\advance\lblno by 1\relax\node[smalltxt,metatxt,anchor=center,align=center,text width=108pt] (n\the\lblno) at (62,85) {This will notify Damon Henry about the rejection of their invoice. You will not be able to revert this action.};
  \fill[navy] (15,103) rectangle (19,107);
  \lbl{23}{105}{Reason for rejection (optional)}\lbl[metatxt]{15}{113}{Tell Damon why the invoice was rejected}
  \btnbox[outgreen]{8}{42}{133}{150}{Cancel}\btnbox[outrose]{47}{117}{133}{150}{Yes, reject}}\homebar
\payphone{j2}{2707}{2087}{421}\paylist\toastbar{22}{102}{393}{410}{You have rejected the invoice.}\homebar
\detailphone{k1}{2493}{2587}{269}{Sassy Store Chemicals Pte}{Payment scheduled}{3 days remaining}{0}\stdbody
\toastbar{4}{120}{218}{234}{You have approved the transfer for this invoice.}\cancelbtn{242}\homebar
\detailphone{k2}{2629}{2587}{269}{Sassy Store Chemicals Pte}{Payment scheduled}{3 days remaining}{0}\stdbody\cancelbtn{242}\homebar
\detailphone{k3}{2493}{2900}{268}{Sassy Store Chemicals Pte}{Paid}{Payment on 18 Apr 2022}{0}\stdbody
\toastbar{4}{120}{242}{258}{You have approved the transfer for this invoice.}\homebar
\detailphone{k4}{2629}{2900}{268}{Sassy Store Chemicals Pte}{Paid}{Payment on 18 Apr 2022}{0}\stdbody\homebar

% connectors of the dashboard and review panels
\draw[faint] (p1.east |- 0,974) -| (p3.north);
\draw[faint] (p1.west |- 0,1030) -- (462,1030) -- (462,1456) -- (p2.west |- 0,1456);
\draw[faint] (p2.west |- 0,1384) -- (484,1384) -- (484,1882) -- (filtersheet.west |- 0,1882);
\draw[flow] (p1.east |- 0,995) -- (955,995) -- (955,884) -- (r1.west |- 0,884);
\draw[flow] (id2.west |- 0,1739) -- (933,1739) -- (933,1070) -- (p1.east |- 0,1070);
\draw[flowplain] (r1.east |- 0,1308) -- (1157,1308) -- (diaa.south);
\coordinate (pendingin) at (1589,1019);
\draw[flowplain] (diaa.north) -- (1156,1019) -- (pendingin);
\draw[flow,shorten <=0pt] (diaa.east) -| (id1.north);
\draw[flow] (id1.south -| id2.north) -- (id2.north);
\node[flowlbl] (viewdraft) at (809,985) {View draft invoice};
\node[greylbl,align=left] (selectmany) at (765,1136) {Select multiple\\invoices for approval};
\node[greylbl,align=left] (swipe) at (398,1233) {Swipe left on the invoice row\\to approve or reject invoice};
\node[greylbl,align=left] (statusfilter) at (461,1884) {Invoice\\status filter};
\node[flowlbl] (yesa) at (1178,1074) {Yes};
\node[flowlbl] (noa) at (1235,1128) {No};

% connectors of the pending review panel
\coordinate (tabtap) at (1835,938);
\coordinate (noend) at (2468,1656);
\draw[flow] (c1.east |- 0,993) -- (c2.west |- 0,993);
\draw[flow,shorten <=0pt] (tabtap) -- (c3.west |- 0,938);
\draw[faint] (c3.west |- 0,1029) -- (c2.east |- 0,1029);
\draw[faintplain] (s1.west |- 0,1354) -- (2040,1354) -- (2040,1029);
\draw[flow] (c3.east |- 0,871) -- (2218,871) -- (2218,373) -- (d1.west |- 0,373);
\draw[flow,shorten <=0pt] (c3.south -| 2174,0) -- (2174,1141) -- (1913,1141) -- (1913,1161);
\draw[flow,shorten <=0pt] (c2.south -| 1840,0) -- (1840,1196) -- (1917,1196);
\draw[flowplain] (1913,1157) -- (diab.north);
\draw[flow,shorten <=0pt] (diab.east) -- (s1.west);
\draw[flow,shorten <=0pt] (diab.south) -- (1912,1656) -- (noend);
\node[flowlbl] (approvaltl) at (1936,914) {Approval timeline for\\pending review};
\node[greylbl] (nocancel) at (1991,1016) {No, cancel};
\node[flowlbl] (yesb) at (1973,1268) {Yes};
\node[flowlbl] (nob) at (1923,1369) {No};

% connectors of the budget panel
\draw[flow] (d1.east |- 0,424) -- (d2.west |- 0,424);
\draw[flow] (d2.east |- 0,541) -- (d3.west |- 0,541);
\draw[flow] (d3.east |- 0,584) -- (3062,584) -- (3062,354) -- (d4.west |- 0,354);
\draw[flow] (d3.east |- 0,584) -- (d6.west |- 0,584);
\draw[flow] (d4.east |- 0,422) -- (d5.west |- 0,422);
\draw[flow] (d5.east |- 0,422) -- (d8.west |- 0,422);
\draw[flow] (d6.east |- 0,648) -- (d7.west |- 0,648);
\draw[flow] (d7.east |- 0,648) -- (d8.west |- 0,648);
\node[flowlbl] (nonadmin) at (3129,335) {When a non Admin/PS/FT\\user assigns a budget};
\node[flowlbl] (notowner) at (3121,579) {User is not budget owner};

% connectors of the approval panels
\draw[flow] (e5.north -| 2548,0) -- (e1.south -| 2548,0);
\draw[flow] (e1.east |- 0,949) -- (e2.west |- 0,949);
\draw[flow] (e2.east |- 0,879) -- (e3.west |- 0,879);
\draw[faint] (e3.east |- 0,910) -- (3148,910) -- (3148,1008) -- (e4.west |- 0,1008);
\draw[faint] (e3.east |- 0,1055) -- (3205,1055) -- (3205,1165);
\draw[faintplain] (e2.east |- 0,1123) -- (3205,1123);
\draw[faint] (e7.south -| 3039,0) -- (3039,1351) -- (e5.east |- 0,1351);
\draw[flow] (e8.east |- 0,1278) -- (3523,1278) -- (3523,1116);
\draw[flow] (e7.south -| 3099,0) -- (3099,1369) -- (3664,1369) -- (3664,1112);
\node[flowlbl] (viewsum) at (2944,885) {View transaction summary};
\node[greylbl] (bottomsheet) at (3045,1134) {Transfer approval bottom sheet};
\draw[flow] (g3.east |- 0,1524) -- (g4.west |- 0,1524);
\draw[faint] (g4.east |- 0,1570) -- (3215,1570) -- (3215,1669) -- (g5.west |- 0,1669);
\node[flowlbl] (viewsumb) at (2977,1530) {View transaction summary};

% connectors of the recipient panel
\draw[flow] (h1.east |- 0,1725) -- (4525,1725) -- (4525,1637) -- (h2.west |- 0,1637);
\draw[flow] (h2.east |- 0,1638) -- (4702,1638) -- (4702,1763) -- (h3.west |- 0,1763);

% connectors of the scan panel
\coordinate (entermanual) at (582,2341);
\foreach \from/\to/\cap/\tagname in {i1/i2/Upload invoice/taga,i2/i3/Auto-fill invoice/tagb,i3/i4/Auto-fill invoice/tagc,i4/i5/Fill complete/tagd} {
  \draw[flow,shorten <=0pt,{Circle[open,fill=white,length=3pt,width=3pt]}-{Straight Barb[length=4pt,width=9pt]}] (\from.east |- 0,2292) -- node[flowtag] (\tagname) {\cap} (\to.west |- 0,2292);
}
\draw[flow,shorten <=0pt] (entermanual) -- (582,2445) -- node[flowtag] (tage) {Enter manually} (412,2445) -- (i6.north -| 412,0);

% connectors of the rejected panel
\draw[flow,shorten <=0pt] (j1.east |- 0,2335) -- (j2.west |- 0,2335);
\node[greylbl] (rejectlbl) at (2099,2257) {Reject invoice};
\end{tikzpicture}
\end{document}
